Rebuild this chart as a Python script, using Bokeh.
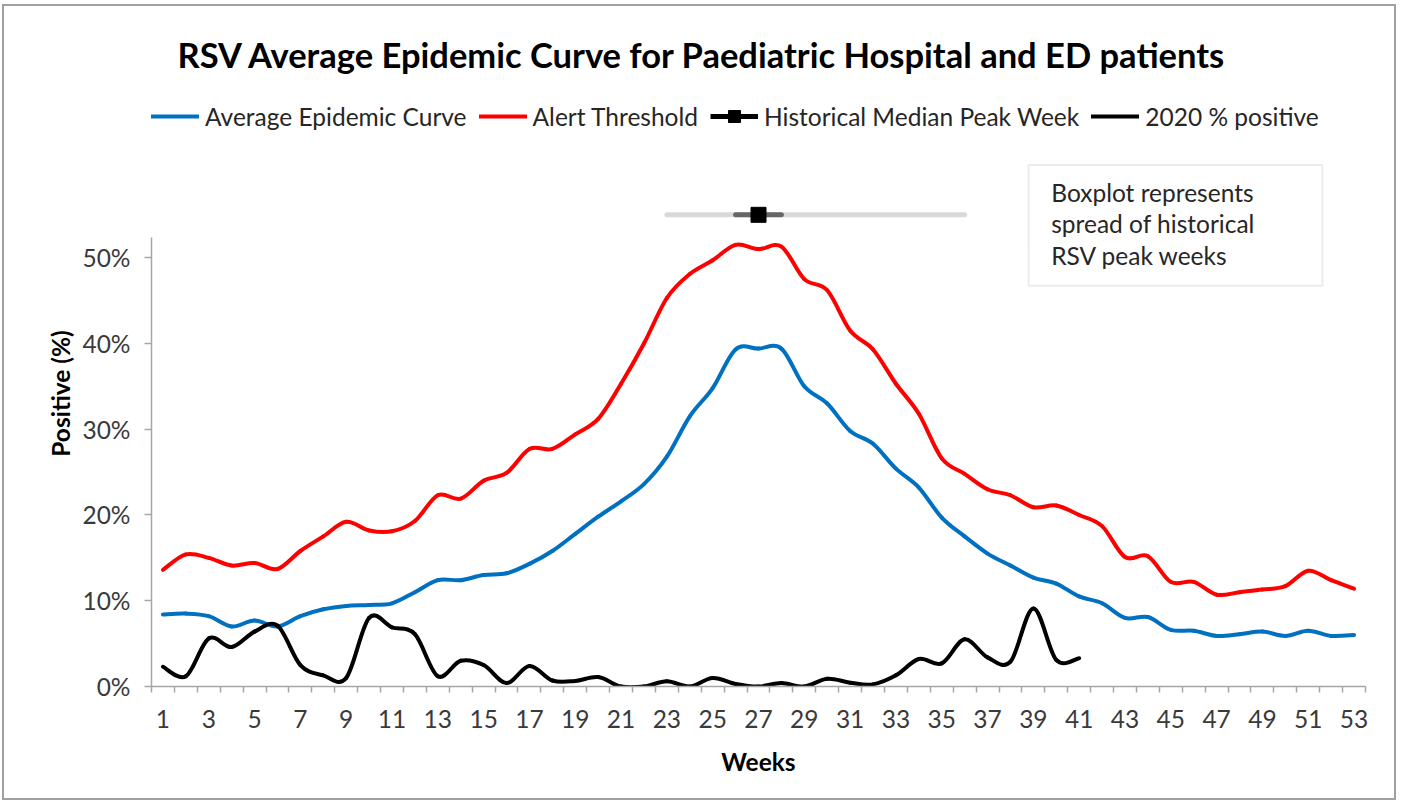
import numpy as np
from bokeh.plotting import figure
from bokeh.models import (FixedTicker, Legend, LegendItem, Label, BoxAnnotation,
                          ColumnDataSource, Range1d)
from bokeh.embed import file_html
from bokeh.resources import INLINE

FONT = "Lato"

# ---------------- data ----------------
weeks = list(range(1, 54))
avg_curve = [8.4, 8.5, 8.2, 7.0, 7.7, 7.0, 8.2, 9.0, 9.4, 9.5,
             9.7, 11.0, 12.4, 12.4, 13.0, 13.2, 14.3, 15.8, 17.8, 19.8,
             21.6, 23.6, 26.8, 31.5, 34.8, 39.3, 39.4, 39.4, 35.0, 33.0,
             29.8, 28.3, 25.4, 23.2, 19.7, 17.5, 15.5, 14.1, 12.7, 12.0,
             10.5, 9.7, 8.0, 8.1, 6.6, 6.5, 5.9, 6.1, 6.4, 5.9,
             6.5, 5.9, 6.0]
alert_threshold = [13.6, 15.4, 15.0, 14.1, 14.4, 13.7, 15.8, 17.5, 19.2, 18.2,
                   18.1, 19.3, 22.3, 21.9, 24.0, 24.9, 27.7, 27.7, 29.4, 31.2,
                   35.3, 40.0, 45.3, 48.1, 49.7, 51.5, 51.0, 51.3, 47.5, 46.2,
                   41.5, 39.3, 35.3, 31.8, 26.6, 24.8, 23.0, 22.3, 20.9, 21.1,
                   20.0, 18.7, 15.1, 15.2, 12.2, 12.2, 10.7, 11.0, 11.3, 11.7,
                   13.5, 12.4, 11.4]
weeks_2020 = list(range(1, 42))
pos_2020 = [2.3, 1.2, 5.6, 4.6, 6.4, 7.1, 2.5, 1.3, 1.0, 8.0,
            6.9, 6.1, 1.2, 3.0, 2.5, 0.4, 2.4, 0.7, 0.65, 1.1,
            0.0, 0.0, 0.6, 0.0, 1.0, 0.3, 0.0, 0.4, 0.0, 0.9,
            0.45, 0.25, 1.3, 3.2, 2.7, 5.5, 3.4, 2.9, 9.1, 3.1,
            3.3]
# historical peak-week boxplot (weeks) and its plotting level (%)
peak_min, peak_q1, peak_median, peak_q3, peak_max = 23, 26, 27, 28, 36
box_level = 55

x_tick_weeks = list(range(1, 54, 2))
x_tick_labels = [str(w) for w in x_tick_weeks]
y_ticks = [0, 10, 20, 30, 40, 50]
y_tick_labels = ["0%", "10%", "20%", "30%", "40%", "50%"]

series_names = ["Average Epidemic Curve", "Alert Threshold",
                "Historical Median Peak Week", "2020 % positive"]
box_note = ["Boxplot represents", "spread of historical", "RSV peak weeks"]


def smooth_source(xs, ys):
    """Cubic Bezier segments through the data points (Excel-style smoothing)."""
    x = np.asarray(xs, float)
    y = np.asarray(ys, float)
    n = len(x)
    xp = np.concatenate([[x[0]], x, [x[-1]]])
    yp = np.concatenate([[y[0]], y, [y[-1]]])
    return ColumnDataSource(dict(
        x0=x[:-1], y0=y[:-1], x1=x[1:], y1=y[1:],
        cx0=x[:-1] + (xp[2:n + 1] - xp[0:n - 1]) / 6.0,
        cy0=y[:-1] + (yp[2:n + 1] - yp[0:n - 1]) / 6.0,
        cx1=x[1:] - (xp[3:n + 2] - xp[1:n]) / 6.0,
        cy1=y[1:] - (yp[3:n + 2] - yp[1:n]) / 6.0,
    ))


p = figure(width=1390, height=792, output_backend="svg", toolbar_location=None,
           x_range=Range1d(0.5, 53.5), y_range=Range1d(0, 68.33),
           min_border_left=147, min_border_right=29, min_border_top=91, min_border_bottom=112,
           background_fill_color="white", border_fill_color="white",
           outline_line_color=None)
# chart-area border, drawn just outside the canvas
p.styles = {"margin-left": "4px", "margin-top": "6px",
            "outline": "2px solid #a0a0a0", "outline-offset": "0px"}

p.title.text = "RSV Average Epidemic Curve for Paediatric Hospital and ED patients"
p.title.text_font = FONT
p.title.text_font_size = "34.5px"
p.title.text_font_style = "bold"
p.title.text_color = "black"
p.title.align = "left"
p.title.offset = 26
p.title.standoff = 51

p.xgrid.visible = False
p.ygrid.visible = False

axis_gray = "#a6a6a6"
label_color = "#3a3a3a"
FS = "24.5px"

xa = p.xaxis[0]
xa.ticker = FixedTicker(ticks=x_tick_weeks, minor_ticks=[w - 0.5 for w in weeks] + [weeks[-1] + 0.5])
xa.major_label_overrides = dict(zip(x_tick_weeks, x_tick_labels))
xa.major_tick_out = 0
xa.major_tick_in = 0
xa.minor_tick_out = 6
xa.minor_tick_in = 0
xa.minor_tick_line_color = axis_gray
xa.minor_tick_line_width = 1.5
xa.axis_line_color = axis_gray
xa.axis_line_width = 1.5
xa.major_label_text_font = FONT
xa.major_label_text_font_size = FS
xa.major_label_text_color = label_color
xa.major_label_standoff = 17
xa.axis_label = "Weeks"
xa.axis_label_text_font = FONT
xa.axis_label_text_font_size = FS
xa.axis_label_text_font_style = "bold"
xa.axis_label_text_color = "black"
xa.axis_label_standoff = 16

ya = p.yaxis[0]
ya.ticker = FixedTicker(ticks=y_ticks, minor_ticks=[])
ya.major_label_overrides = dict(zip(y_ticks, y_tick_labels))
ya.bounds = (0, 52.3)
ya.major_tick_out = 7
ya.major_tick_in = 0
ya.major_tick_line_color = axis_gray
ya.major_tick_line_width = 1.5
ya.minor_tick_out = 0
ya.minor_tick_in = 0
ya.axis_line_color = axis_gray
ya.axis_line_width = 1.5
ya.major_label_text_font = FONT
ya.major_label_text_font_size = FS
ya.major_label_text_color = label_color
ya.major_label_standoff = 14
ya.axis_label = "Positive (%)"
ya.axis_label_text_font = FONT
ya.axis_label_text_font_size = FS
ya.axis_label_text_font_style = "bold"
ya.axis_label_text_color = "black"
ya.axis_label_standoff = 4

bez = dict(x0="x0", y0="y0", x1="x1", y1="y1", cx0="cx0", cy0="cy0", cx1="cx1", cy1="cy1")
r_avg = p.bezier(source=smooth_source(weeks, avg_curve), line_color="#0070C0",
                 line_width=4, line_cap="round", **bez)
r_alert = p.bezier(source=smooth_source(weeks, alert_threshold), line_color="#FF0000",
                   line_width=4, line_cap="round", **bez)
r_2020 = p.bezier(source=smooth_source(weeks_2020, pos_2020), line_color="black",
                  line_width=4, line_cap="round", **bez)

# boxplot of historical peak weeks
p.segment(x0=[peak_min], y0=[box_level], x1=[peak_max], y1=[box_level],
          line_color="#d9d9d9", line_width=5, line_cap="round")
p.segment(x0=[peak_q1], y0=[box_level], x1=[peak_q3], y1=[box_level],
          line_color="#666666", line_width=5, line_cap="round")
r_med = p.scatter(x=[peak_median], y=[box_level], marker="square", size=15,
                  color="black")
# zero-length line: only supplies the black line of the legend symbol
r_med_line = p.line(x=[peak_median], y=[box_level], line_color="black", line_width=5)

legend = Legend(items=[LegendItem(label=series_names[0], renderers=[r_avg]),
                       LegendItem(label=series_names[1], renderers=[r_alert]),
                       LegendItem(label=series_names[2], renderers=[r_med_line, r_med]),
                       LegendItem(label=series_names[3], renderers=[r_2020])],
                location=(0, 555), orientation="horizontal",
                glyph_width=48, glyph_height=30, label_height=20,
                label_standoff=6, spacing=12, padding=0, margin=0,
                border_line_color=None, background_fill_alpha=0,
                label_text_font=FONT, label_text_font_size=FS,
                label_text_color="#262626")
p.add_layout(legend)

p.add_layout(BoxAnnotation(left=38.79, right=51.62, bottom=46.72, top=60.82,
                           fill_color="white", fill_alpha=1.0,
                           line_color="#bfbfbf", line_width=2))
for txt, yv in zip(box_note, [57.66, 53.98, 50.31]):
    p.add_layout(Label(x=39.78, y=yv, text=txt, text_font=FONT, text_font_size=FS,
                       text_baseline="middle", text_color="#262626"))

open("out.html", "w").write(file_html(p, INLINE, title="RSV Average Epidemic Curve"))
